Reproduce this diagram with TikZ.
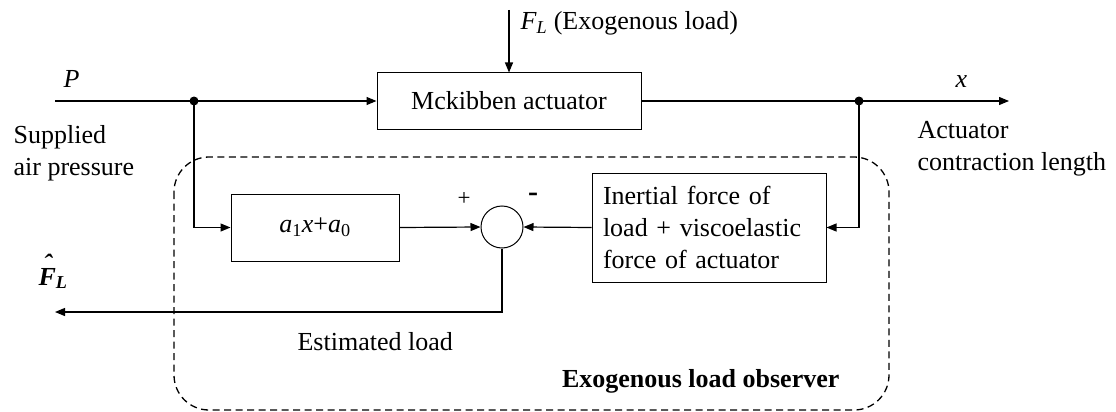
\documentclass[tikz,border=0pt]{standalone}
\usepackage{fontspec}
\setmainfont{Liberation Serif}
\usetikzlibrary{arrows.meta}

\begin{document}
\begin{tikzpicture}[x=1pt,y=-1pt,
  font=\fontsize{26}{32}\selectfont,
  line width=1.2pt,
  >={Triangle[length=10pt,width=8pt]},
  block/.style={draw,line width=1pt,inner sep=0pt},
  lbl/.style={inner sep=0pt},
  dot/.style={circle,fill,inner sep=0pt,minimum size=9pt},
  sumnode/.style={circle,draw,line width=1pt,minimum size=42pt,inner sep=0pt},
  group/.style={draw,line width=1.3pt,dash pattern=on 7pt off 4.5pt,rounded corners=35pt}
]
\useasboundingbox (0,0) rectangle (1116,412);

% observer boundary
\draw[group] (174,157) rectangle (889,410);

% blocks
\node[block,minimum width=264pt,minimum height=56pt] (act) at (509,101) {Mckibben actuator};
\node[block,minimum width=168pt,minimum height=67pt] (poly) at (315,227.5)
  {\textit{a}\textsubscript{1}\textit{x}+\textit{a}\textsubscript{0}};
\node[sumnode] (sum) at (502,227) {};
\node[block,minimum width=234pt,minimum height=109pt,align=left,text width=212pt,inner xsep=11pt]
  (inert) at (709,227.5) {Inertial force of\\load + viscoelastic\\force of actuator};

% junctions and free ends
\coordinate (pin) at (55,101);
\node[dot] (j1) at (194,101) {};
\node[dot] (j2) at (859,101) {};
\coordinate (xout) at (1009,101);
\coordinate (ftop) at (509,10);
\coordinate (fout) at (55,312);

% signal flow
\draw (pin) -- (j1.center);
\draw[->] (j1.center) -- (act.west);
\draw (act.east) -- (j2.center);
\draw[->] (j2.center) -- (xout);
\draw[->] (ftop) -- (act.north);
\draw[->] (j1.center) |- (poly.west);
\draw[->] (poly.east) -- (sum.west);
\draw[->] (j2.center) |- (inert.east);
\draw[->] (inert.west) -- (sum.east);
\draw[->] (sum.south) |- (fout);

% labels
\node[lbl,anchor=base west] (plbl) at (63,88) {\textit{P}};
\node[lbl,anchor=base west] (xlbl) at (955,88) {\textit{x}};
\node[lbl,anchor=base west] (flbl) at (520,30) {\textit{F}\textsubscript{\textit{L}} (Exogenous load)};
\node[lbl,anchor=north west,align=left] (src) at (13,125) {Supplied\\air pressure};
\node[lbl,anchor=north west,align=left] (dst) at (917,121) {Actuator\\contraction length};
\node[lbl] (plus) at (464,199) {\fontsize{23}{23}\selectfont +};
\node[lbl] (minus) at (533,197) {\fontsize{30}{30}\selectfont\textbf{-}};
\node[lbl,anchor=base west] (est) at (297,350) {Estimated load};
\node[lbl,anchor=base east] (obs) at (840,387) {\textbf{Exogenous load observer}};
\node[lbl,anchor=base west] (fhat) at (38,285)
  {\bfseries\itshape F\llap{\raisebox{13pt}{ˆ}\kern4pt}\textsubscript{L}};
\end{tikzpicture}
\end{document}
